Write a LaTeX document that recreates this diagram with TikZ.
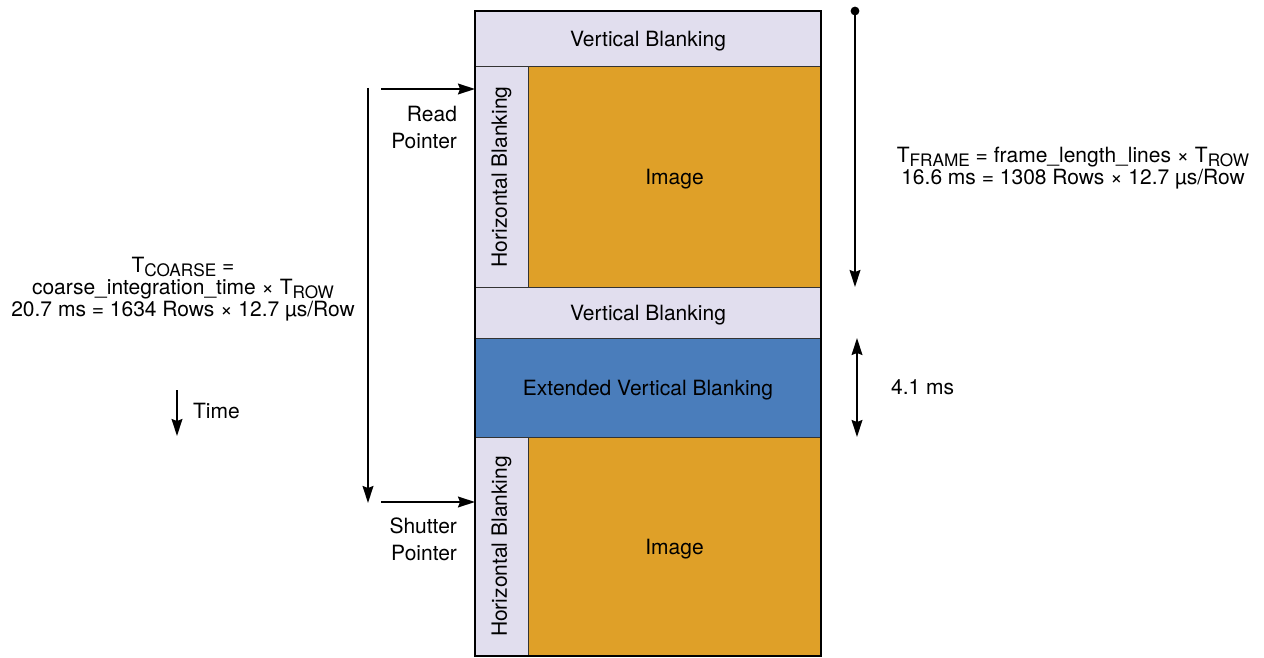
\documentclass[tikz,border=0pt]{standalone}
\usepackage{fontspec}
\setmainfont{TeX Gyre Heros}
\usepackage{tikz}
\usetikzlibrary{calc,arrows.meta}

\definecolor{blankcol}{RGB}{225,222,238}
\definecolor{imagecol}{RGB}{223,160,40}
\definecolor{extcol}{RGB}{74,125,187}
\newcommand{\lowsub}[1]{\raisebox{-2.2pt}{\fontsize{8.6}{8.6}\selectfont #1}}

\begin{document}
\begin{tikzpicture}[x=0.5pt,y=-0.5pt,
    every node/.style={font=\fontsize{10.5}{13.5}\selectfont},
    part/.style={draw=black!80,line width=0.5pt,inner sep=0pt,outer sep=0pt,
                 text depth=0pt,minimum width=#1},
    blank/.style={part=173pt,fill=blankcol},
    hblank/.style={part=26.5pt,fill=blankcol,minimum height=110pt},
    pic/.style={part=146.5pt,fill=imagecol,minimum height=110pt},
    tip/.style={Stealth[length=8.5pt,width=5.4pt,inset=1pt]},
    arr/.style={line width=0.9pt,-{Stealth[length=8.5pt,width=5.4pt,inset=1pt]}},
    darr/.style={line width=0.9pt,{Stealth[length=8.5pt,width=5.4pt,inset=1pt]}-{Stealth[length=8.5pt,width=5.4pt,inset=1pt]}}]
    \useasboundingbox (0,0) rectangle (1264,658);

    % the frame, from top to bottom
    \node[blank,minimum height=28pt] (vbTop) at (648,39) {Vertical Blanking};
    \node[hblank] (hbTop) at (501.5,177) {\rotatebox{90}{Horizontal Blanking}};
    \node[pic] (imgTop) at (674.5,177) {Image};
    \node[blank,minimum height=25.5pt] (vbMid) at (648,312.5) {Vertical Blanking};
    \node[part=173pt,fill=extcol,minimum height=49.5pt] (extVb) at (648,387.5)
        {Extended Vertical Blanking};
    \node[hblank,minimum height=109.5pt] (hbBot) at (501.5,546.5) {\rotatebox{90}{Horizontal Blanking}};
    \node[pic,minimum height=109.5pt] (imgBot) at (674.5,546.5) {Image};
    \draw[line width=1.1pt] (vbTop.north west) rectangle (imgBot.south east);

    % pointers on the left
    \coordinate (readStart) at (381,89);
    \coordinate (shutStart) at (381,502);
    \draw[arr] (readStart) -- (readStart -| hbTop.west);
    \draw[arr] (shutStart) -- (shutStart -| hbBot.west);
    \node[anchor=east,align=right] (readTxt) at (464,128) {Read\\Pointer};
    \node[anchor=east,align=right] (shutTxt) at (464,539) {Shutter\\Pointer};

    % coarse integration time
    \coordinate (coarseTop) at (368,88);
    \coordinate (coarseBot) at (368,503);
    \draw[arr] (coarseTop) -- (coarseBot);
    \node[align=center,font=\fontsize{10.5}{11}\selectfont] (coarseTxt) at (183,289)
        {T\lowsub{COARSE} =\\coarse\_integration\_time × T\lowsub{ROW}\\20.7 ms = 1634 Rows × 12.7 µs/Row};

    % time direction
    \coordinate (timeTop) at (177,390);
    \coordinate (timeBot) at (177,436);
    \draw[arr] (timeTop) -- (timeBot);
    \node[anchor=west] (timeTxt) at (186,411) {Time};

    % frame time on the right
    \coordinate (frameTop) at (855,11);
    \coordinate (frameBot) at (855,287);
    \fill (frameTop) circle (2.2pt);
    \draw[arr] (frameTop) -- (frameBot);
    \node[align=center,font=\fontsize{10.5}{9.8}\selectfont] (frameTxt) at (1073,168)
        {T\lowsub{FRAME} = frame\_length\_lines × T\lowsub{ROW}\\16.6 ms = 1308 Rows × 12.7 µs/Row};

    % extended blanking time
    \coordinate (extTop) at (857,338);
    \coordinate (extBot) at (857,437);
    \draw[darr] (extTop) -- (extBot);
    \node[anchor=west] (extTxt) at (884,387) {4.1 ms};
\end{tikzpicture}
\end{document}
